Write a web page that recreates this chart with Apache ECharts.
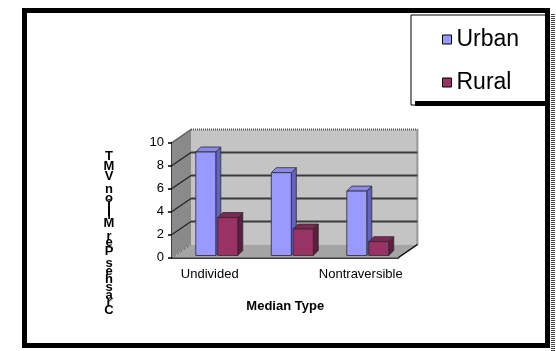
<!DOCTYPE html>
<html>
<head>
<meta charset="utf-8">
<script src="https://cdn.jsdelivr.net/npm/echarts@6.0.0/dist/echarts.min.js"></script>
<style>
  html, body { margin: 0; padding: 0; background: #fff; }
  #chart { width: 556px; height: 351px; }
</style>
</head>
<body>
<div id="chart"></div>
<script>
// Crash rates by median type
const categories = ['Undivided', 'Divided', 'Nontraversible'];
const urban = [9.0, 7.2, 5.6];
const rural = [3.3, 2.3, 1.2];
const seriesNames = ['Urban', 'Rural'];
const yTicks = [0, 2, 4, 6, 8, 10];
const yTitle = 'Crashes Per Million VMT';
const xTitle = 'Median Type';

const FONT = '"Liberation Sans", Arial, sans-serif';
const DX = 19, DY = 13;        // depth of the 3D plot box
const BDX = 5, BDY = 5;        // depth of each column
const BAR_FRAC = 0.265;        // column width as a share of the category band
const GAP_FRAC = 0.013;        // half gap between the paired columns
const SHIFT_FRAC = 0.093;      // columns sit a little back into the box
const BASE_LIFT = 2;

const palette = {
  Urban: { front: '#9999ff', top: '#8a8ae6', side: '#6464c0' },
  Rural: { front: '#993366', top: '#7d2853', side: '#5e1d3f' }
};

const chart = echarts.init(document.getElementById('chart'), null, { renderer: 'canvas' });

// Walls, floor and gridlines of the 3D box
function renderBox(params, api) {
  const cs = params.coordSys;
  const L = cs.x, R = cs.x + cs.width;
  const y0 = api.coord([0, yTicks[0]])[1];
  const yTop = api.coord([0, yTicks[yTicks.length - 1]])[1];
  const children = [];
  children.push({ type: 'polygon', shape: { points: [[L, y0], [L, yTop], [L + DX, yTop - DY], [L + DX, y0 - DY]] },
    style: { fill: '#8a8a8a' } });
  children.push({ type: 'rect', shape: { x: L + DX, y: yTop - DY, width: R - L, height: y0 - yTop },
    style: { fill: '#c4c4c4' } });
  children.push({ type: 'polygon', shape: { points: [[L, y0], [L + DX, y0 - DY], [R + DX, y0 - DY], [R, y0]] },
    style: { fill: '#a4a4a4' } });
  yTicks.forEach(function (v) {
    if (v === yTicks[0] || v === yTicks[yTicks.length - 1]) return;
    const y = api.coord([0, v])[1];
    children.push({ type: 'line', shape: { x1: L + DX, y1: y - DY, x2: R + DX, y2: y - DY },
      style: { stroke: '#3a3a3a', lineWidth: 2 } });
    children.push({ type: 'line', shape: { x1: L, y1: y, x2: L + DX, y2: y - DY },
      style: { stroke: '#222', lineWidth: 1.2 } });
  });
  // top and right edges of the back wall
  children.push({ type: 'line', shape: { x1: L + DX, y1: yTop - DY, x2: R + DX, y2: yTop - DY },
    style: { stroke: '#555', lineWidth: 2, lineDash: [1, 1] } });
  children.push({ type: 'line', shape: { x1: R + DX, y1: yTop - DY, x2: R + DX, y2: y0 - DY },
    style: { stroke: '#555', lineWidth: 2, lineDash: [1, 1] } });
  children.push({ type: 'line', shape: { x1: L, y1: yTop, x2: L + DX, y2: yTop - DY },
    style: { stroke: '#555', lineWidth: 1.2 } });
  children.push({ type: 'line', shape: { x1: R, y1: y0, x2: R + DX, y2: y0 - DY },
    style: { stroke: '#000', lineWidth: 1.5 } });
  children.push({ type: 'line', shape: { x1: L + 2, y1: y0 - 1, x2: L + DX, y2: y0 - DY },
    style: { stroke: '#555', lineWidth: 1, lineDash: [2, 2] } });
  return { type: 'group', children: children };
}

// One 3D column per datum
function makeColumnRenderer(name, sideSign) {
  const col = palette[name];
  return function (params, api) {
    const idx = api.value(0);
    const band = api.size([1, 0])[0];
    const c = api.coord([idx, 0])[0] + band * SHIFT_FRAC;
    const w = band * BAR_FRAC;
    const g = band * GAP_FRAC;
    const x0 = sideSign < 0 ? c - g - w : c + g;
    const x1 = x0 + w;
    const yb = api.coord([idx, 0])[1] - BASE_LIFT;
    const yt = api.coord([idx, api.value(1)])[1] - BASE_LIFT;
    const edge = { stroke: '#2a2a2a', lineWidth: 0.8 };
    return { type: 'group', children: [
      { type: 'polygon', shape: { points: [[x1, yb], [x1, yt], [x1 + BDX, yt - BDY], [x1 + BDX, yb - BDY]] },
        style: Object.assign({ fill: col.side }, edge) },
      { type: 'polygon', shape: { points: [[x0, yt], [x0 + BDX, yt - BDY], [x1 + BDX, yt - BDY], [x1, yt]] },
        style: Object.assign({ fill: col.top }, edge) },
      { type: 'rect', shape: { x: x0, y: yt, width: w, height: yb - yt },
        style: Object.assign({ fill: col.front }, edge) }
    ] };
  };
}

// Axis title drawn as upright letters stacked bottom-to-top
function stackedTitle(text, cx, yBottom, yTopC) {
  const font = 'bold 13px ' + FONT;
  const ctx = document.createElement('canvas').getContext('2d');
  ctx.font = font;
  const chars = text.split('');
  const widths = chars.map(function (ch) { return ctx.measureText(ch).width; });
  const centers = [];
  let acc = 0;
  widths.forEach(function (w) { centers.push(acc + w / 2); acc += w; });
  const span = centers[centers.length - 1] - centers[0];
  const k = (yBottom - yTopC) / span;
  return chars.map(function (ch, i) {
    return { type: 'text', x: cx, y: yBottom - (centers[i] - centers[0]) * k,
      style: { text: ch, fill: '#000', font: font, textAlign: 'center', textVerticalAlign: 'middle' },
      z: 20 };
  });
}

const option = {
  backgroundColor: '#fff',
  animation: false,
  grid: { left: 172, right: 157.5, top: 142.5, bottom: 93.5, containLabel: false },
  xAxis: {
    type: 'category',
    data: categories,
    boundaryGap: true,
    axisLine: { show: true, lineStyle: { color: '#000', width: 1.5 } },
    axisTick: { show: false },
    axisLabel: { interval: 1, fontSize: 13, color: '#000', fontFamily: FONT, margin: 10 },
    name: xTitle,
    nameLocation: 'middle',
    nameGap: 42,
    nameTextStyle: { fontSize: 13, fontWeight: 'bold', color: '#000', fontFamily: FONT },
    splitLine: { show: false }
  },
  yAxis: {
    type: 'value',
    min: yTicks[0],
    max: yTicks[yTicks.length - 1],
    interval: yTicks[1] - yTicks[0],
    axisLine: { show: true, lineStyle: { color: '#000', width: 1.5 } },
    axisTick: { show: true, inside: false, length: 4, lineStyle: { color: '#000', width: 1.5 } },
    axisLabel: { fontSize: 13, color: '#000', fontFamily: FONT, margin: 8 },
    splitLine: { show: false }
  },
  legend: {
    data: seriesNames,
    orient: 'vertical',
    left: 411,
    top: 15,
    backgroundColor: '#fff',
    borderColor: '#000',
    borderWidth: 1,
    padding: [13, 27, 11, 31],
    itemGap: 20,
    itemWidth: 9,
    itemHeight: 9,
    icon: 'rect',
    itemStyle: { borderColor: '#000', borderWidth: 1 },
    textStyle: { fontSize: 23, color: '#000', fontFamily: FONT },
    selectedMode: false
  },
  series: [
    {
      name: 'box',
      type: 'custom',
      renderItem: renderBox,
      data: [[0, 0]],
      z: 1,
      silent: true,
      legendHoverLink: false
    },
    {
      name: seriesNames[0],
      type: 'custom',
      renderItem: makeColumnRenderer('Urban', -1),
      itemStyle: { color: palette.Urban.front },
      data: urban.map(function (v, i) { return [i, v]; }),
      encode: { x: 0, y: 1 },
      z: 3
    },
    {
      name: seriesNames[1],
      type: 'custom',
      renderItem: makeColumnRenderer('Rural', 1),
      itemStyle: { color: palette.Rural.front },
      data: rural.map(function (v, i) { return [i, v]; }),
      encode: { x: 0, y: 1 },
      z: 4
    }
  ],
  graphic: [
    // legend drop shadow
    { type: 'rect', shape: { x: 415, y: 101, width: 132, height: 5 }, style: { fill: '#000' }, z: 10 },
    // outer chart border
    { type: 'rect', shape: { x: 24.5, y: 10.5, width: 523, height: 335 },
      style: { fill: 'none', stroke: '#000', lineWidth: 5 }, z: 10 },
    // hatched right edge
    { type: 'line', shape: { x1: 553, y1: 14, x2: 553, y2: 351 },
      style: { stroke: '#444', lineWidth: 4, lineDash: [1, 1] }, z: 10 }
  ].concat(stackedTitle(yTitle, 109, 310, 156))
};

chart.setOption(option);
</script>
</body>
</html>
